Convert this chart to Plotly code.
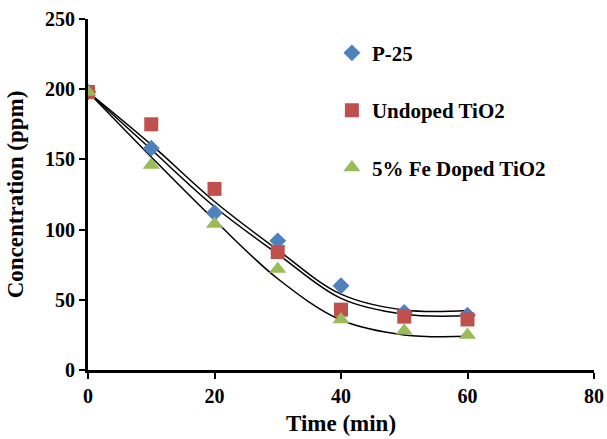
import plotly.graph_objects as go

time = [0, 10, 20, 30, 40, 50, 60]
p25 = [198, 158, 112, 92, 60, 41, 39]
undoped = [198, 175, 129, 84, 43, 38, 36]
fe_doped = [198, 146, 104, 72, 36, 28, 25]

# trendline values
p25_fit = [198, 160.5, 120, 85.5, 54, 42.7, 42.3]
undoped_fit = [198, 157, 116.3, 82.6, 51, 39.7, 38.7]
fe_doped_fit = [198, 151.7, 106.8, 65, 35.6, 25, 24]

names = ["P-25", "Undoped TiO2", "5% Fe Doped TiO2"]
series = [p25, undoped, fe_doped]
fits = [p25_fit, undoped_fit, fe_doped_fit]
colors = ["#4F81BD", "#C0504D", "#9BBB59"]
symbols = ["diamond", "square", "triangle-up"]
sizes = [13, 14, 15]

fig = go.Figure()
for fy in fits:
    fig.add_trace(go.Scatter(x=time, y=fy, mode="lines",
                             line=dict(color="black", width=1.5,
                                       shape="spline", smoothing=1.0),
                             showlegend=False, hoverinfo="skip"))
for i, (n, ys) in enumerate(zip(names, series)):
    fig.add_trace(go.Scatter(x=time, y=ys, mode="markers", name=n,
                             legendgroup=n,
                             marker=dict(color=colors[i], symbol=symbols[i],
                                         size=sizes[i], line=dict(width=0))))

font = "Liberation Serif"
fig.update_layout(
    width=607, height=439,
    margin=dict(l=88, r=13, t=19, b=69),
    paper_bgcolor="white", plot_bgcolor="white",
    font=dict(family=font, size=16, color="black"),
    legend=dict(x=0.482, y=0.961, xanchor="left", yanchor="top",
                font=dict(family=font, size=21, color="black", weight="bold"),
                tracegroupgap=27, bgcolor="rgba(0,0,0,0)", itemwidth=30),
    xaxis=dict(range=[0, 80], tickvals=[0, 20, 40, 60, 80], automargin=False,
               showline=True, linecolor="black", linewidth=3,
               ticks="outside", ticklen=6, tickwidth=2, tickcolor="black",
               showgrid=False, zeroline=False,
               tickfont=dict(family=font, size=20, weight="bold"),
               title=dict(text="Time (min)", standoff=9,
                          font=dict(family=font, size=23, weight="bold"))),
    yaxis=dict(range=[0, 250], tickvals=[0, 50, 100, 150, 200, 250],
               automargin=False,
               showline=True, linecolor="black", linewidth=3,
               ticks="outside", ticklen=6, tickwidth=2, tickcolor="black",
               showgrid=False, zeroline=False,
               tickfont=dict(family=font, size=20, weight="bold"),
               title=dict(text="Concentration (ppm)", standoff=15,
                          font=dict(family=font, size=23, weight="bold"))),
)
fig.write_html("out.html")
